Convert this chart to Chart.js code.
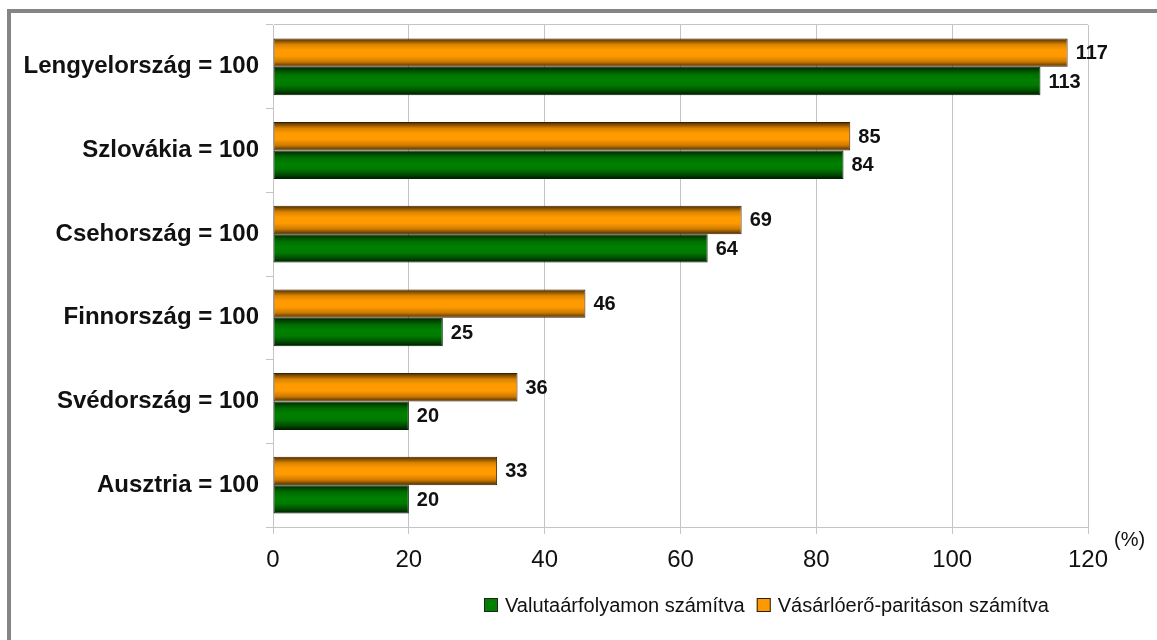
<!DOCTYPE html>
<html lang="hu">
<head>
<meta charset="utf-8">
<script src="https://cdn.jsdelivr.net/npm/chart.js@4/dist/chart.umd.min.js"></script>
<style>
  html, body { margin: 0; padding: 0; background: #fff; }
  #wrap { position: relative; width: 1157px; height: 640px; overflow: hidden; }
  #frame { position: absolute; left: 7px; top: 9px; width: 1300px; height: 800px;
           border-left: 4px solid #858585; border-top: 4px solid #858585; box-sizing: border-box; }
  #c { position: absolute; left: 0; top: 0; }
</style>
</head>
<body>
<div id="wrap">
  <div id="frame"></div>
  <canvas id="c" width="1157" height="640"></canvas>
</div>
<script>
// Országok (a viszonyítási alap = 100)
const categories = ['Lengyelország = 100', 'Szlovákia = 100', 'Csehország = 100',
                    'Finnország = 100', 'Svédország = 100', 'Ausztria = 100'];
// Vásárlóerő-paritáson számítva
const pppValues = [117, 85, 69, 46, 36, 33];
// Valutaárfolyamon számítva
const fxValues = [113, 84, 64, 25, 20, 20];
const seriesNames = ['Vásárlóerő-paritáson számítva', 'Valutaárfolyamon számítva'];
const axisMin = 0, axisMax = 120, axisStep = 20;

const FONT = '"Liberation Sans", Arial, Helvetica, sans-serif';
const GRID = '#c4c4c4';

// gradient stops per series: dark edges, bright middle
const gradientStops = [
  [[0, '#4a2800'], [0.22, '#d98400'], [0.4, '#ff9a00'], [0.62, '#ff9a00'], [0.82, '#cc7a00'], [1, '#4a2800']],
  [[0, '#002400'], [0.25, '#006e00'], [0.45, '#008000'], [0.65, '#007a00'], [0.85, '#004a00'], [1, '#001800']]
];

const barGradient = {
  id: 'barGradient',
  beforeDatasetsDraw(chart) {
    const ctx = chart.ctx;
    chart.data.datasets.forEach((ds, di) => {
      const meta = chart.getDatasetMeta(di);
      meta.data.forEach(el => {
        const top = el.y - el.height / 2;
        const g = ctx.createLinearGradient(0, top, 0, top + el.height);
        gradientStops[di].forEach(([p, c]) => g.addColorStop(p, c));
        el.options = Object.assign({}, el.options, { backgroundColor: g });
      });
    });
  }
};

const valueLabels = {
  id: 'valueLabels',
  afterDatasetsDraw(chart) {
    const ctx = chart.ctx;
    ctx.save();
    ctx.font = 'bold 20px ' + FONT;
    ctx.fillStyle = '#111';
    ctx.textAlign = 'left';
    ctx.textBaseline = 'middle';
    chart.data.datasets.forEach((ds, di) => {
      const meta = chart.getDatasetMeta(di);
      meta.data.forEach((el, i) => {
        ctx.fillText(String(ds.data[i]), el.x + 8, el.y + 1);
      });
    });
    ctx.restore();
  }
};

const extras = {
  id: 'extras',
  afterDraw(chart) {
    const ctx = chart.ctx;
    ctx.save();
    // unit label at the end of the value axis
    ctx.font = '20px ' + FONT;
    ctx.fillStyle = '#111';
    ctx.textAlign = 'left';
    ctx.textBaseline = 'middle';
    ctx.fillText('(%)', 1114, 540);

    // legend: green series first, then orange
    const order = [1, 0];
    let x = 484;
    const y = 605;
    order.forEach((di, k) => {
      const ds = chart.data.datasets[di];
      ctx.fillStyle = ds.legendColor;
      ctx.fillRect(x, y - 7, 14, 14);
      ctx.strokeStyle = '#222';
      ctx.lineWidth = 1;
      ctx.strokeRect(x + 0.5, y - 6.5, 13, 13);
      ctx.fillStyle = '#111';
      ctx.font = '20px ' + FONT;
      ctx.fillText(ds.label, x + 21, y + 1);
      x += 21 + ctx.measureText(ds.label).width + 12;
    });
    ctx.restore();
  }
};

new Chart(document.getElementById('c'), {
  type: 'bar',
  data: {
    labels: categories,
    datasets: [
      { label: seriesNames[0], data: pppValues, backgroundColor: '#ff9900', legendColor: '#ff9900',
        borderColor: '#3a2000', borderWidth: 1, borderSkipped: false },
      { label: seriesNames[1], data: fxValues, backgroundColor: '#008000', legendColor: '#008000',
        borderColor: '#002000', borderWidth: 1, borderSkipped: false }
    ]
  },
  options: {
    indexAxis: 'y',
    responsive: false,
    animation: false,
    events: [],
    devicePixelRatio: 1,
    categoryPercentage: 0.68,
    barPercentage: 1.0,
    layout: { padding: { top: 25, right: 69, bottom: 0, left: 0 } },
    plugins: { legend: { display: false }, tooltip: { enabled: false } },
    scales: {
      x: {
        min: axisMin, max: axisMax,
        ticks: { stepSize: axisStep, color: '#111', font: { family: FONT, size: 24 }, padding: 12 },
        grid: { color: GRID, lineWidth: 1, tickLength: 7, tickColor: GRID },
        border: { color: GRID, width: 1 },
        afterFit(scale) { scale.height = 113; }
      },
      y: {
        ticks: { color: '#111', font: { family: FONT, size: 24, weight: 'bold' }, padding: 7 },
        grid: {
          offset: true,
          tickLength: 7,
          tickColor: GRID,
          color: ctx => ctx.index === 0 ? GRID : 'rgba(0,0,0,0)'
        },
        border: { color: GRID, width: 1 },
        afterFit(scale) { scale.width = 273; }
      }
    }
  },
  plugins: [barGradient, valueLabels, extras]
});
</script>
</body>
</html>
